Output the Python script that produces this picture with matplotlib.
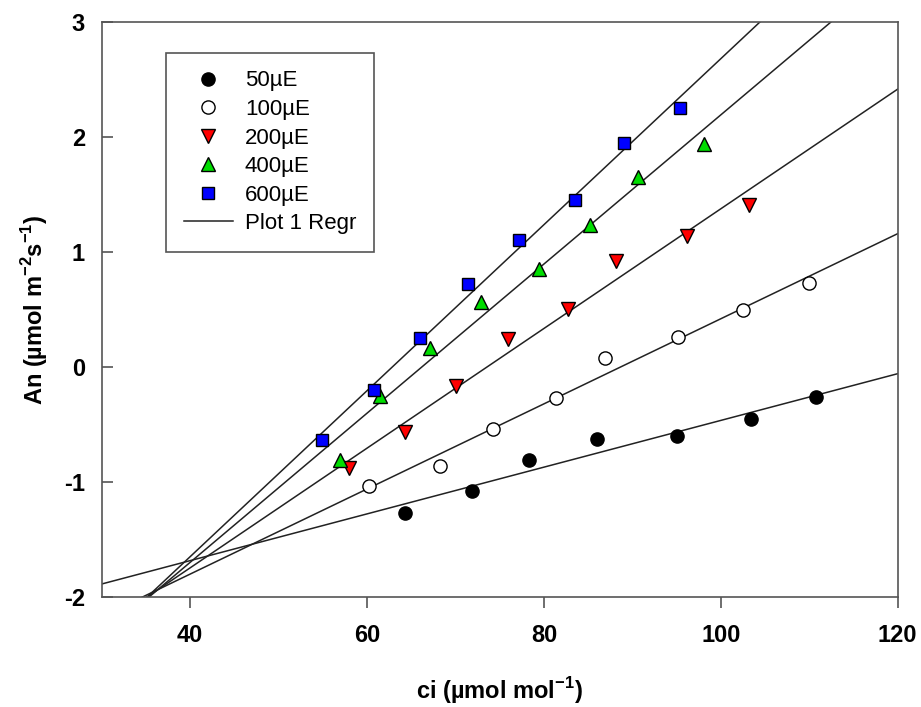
import matplotlib
matplotlib.use("Agg")
import matplotlib.pyplot as plt
import numpy as np

plt.rcParams['font.family'] = ['Liberation Sans', 'DejaVu Sans']
plt.rcParams['mathtext.fontset'] = 'custom'
plt.rcParams['mathtext.rm'] = 'Liberation Sans'
plt.rcParams['mathtext.bf'] = 'Liberation Sans:bold'
plt.rcParams['axes.unicode_minus'] = False

# ci values and An values for each light level
ci_50 = [64.3, 71.9, 78.3, 86.0, 95.0, 103.4, 110.8]
an_50 = [-1.27, -1.08, -0.81, -0.63, -0.60, -0.45, -0.26]

ci_100 = [60.2, 68.2, 74.2, 81.4, 86.9, 95.2, 102.5, 110.0]
an_100 = [-1.04, -0.86, -0.54, -0.27, 0.08, 0.26, 0.49, 0.73]

ci_200 = [58.0, 64.3, 70.1, 75.9, 82.7, 88.1, 96.2, 103.2]
an_200 = [-0.88, -0.57, -0.17, 0.24, 0.50, 0.92, 1.14, 1.41]

ci_400 = [57.0, 61.5, 67.1, 72.9, 79.5, 85.2, 90.6, 98.1]
an_400 = [-0.81, -0.25, 0.16, 0.56, 0.85, 1.23, 1.65, 1.94]

ci_600 = [54.9, 60.8, 66.0, 71.4, 77.2, 83.5, 89.1, 95.4]
an_600 = [-0.64, -0.20, 0.25, 0.72, 1.10, 1.45, 1.95, 2.25]

labels = ['50µE', '100µE', '200µE', '400µE', '600µE']

fig = plt.figure(figsize=(9.21, 7.07), dpi=100)
ax = fig.add_axes([0.1104, 0.156, 0.8643, 0.8129])

series = [
    (ci_50, an_50, 'o', 'black', 9.5),
    (ci_100, an_100, 'o', 'white', 9.5),
    (ci_200, an_200, 'v', 'red', 10.5),
    (ci_400, an_400, '^', '#00dd00', 10.5),
    (ci_600, an_600, 's', 'blue', 9),
]

xline = np.array([30, 120])
handles = []
for (x, y, m, c, ms), lab in zip(series, labels):
    h, = ax.plot(x, y, linestyle='none', marker=m, markersize=ms,
                 markerfacecolor=c, markeredgecolor='black',
                 markeredgewidth=1.0, label=lab, zorder=3)
    handles.append(h)
    k, b = np.polyfit(x, y, 1)
    ln, = ax.plot(xline, k * xline + b, color='#222222', lw=1.1, zorder=2)
ln.set_label('Plot 1 Regr')
handles.append(ln)

ax.set_xlim(30, 120)
ax.set_ylim(-2, 3)
ax.set_xticks([40, 60, 80, 100, 120])
ax.set_yticks([-2, -1, 0, 1, 2, 3])

for s in ax.spines.values():
    s.set_color('#555555')
    s.set_linewidth(1.2)

ax.tick_params(axis='x', direction='out', length=8, width=1.2, color='#555555',
               labelsize=17, pad=12, top=False)
ax.tick_params(axis='y', direction='in', length=8, width=1.2, color='#555555',
               labelsize=17, pad=12, right=False)
for t in ax.get_xticklabels() + ax.get_yticklabels():
    t.set_fontweight('bold')

ax.set_xlabel('ci (µmol mol$^{\\mathregular{-1}}$)', fontsize=17,
              fontweight='bold', labelpad=20)
ax.set_ylabel('An (µmol m$^{\\mathregular{-2}}$s$^{\\mathregular{-1}}$)',
              fontsize=17, fontweight='bold', labelpad=10)

leg = ax.legend(handles=handles, loc='upper left',
                bbox_to_anchor=(0.0808, 0.9466), borderaxespad=0,
                fontsize=16, frameon=True, fancybox=False,
                handlelength=2.2, handletextpad=0.55, labelspacing=0.34,
                borderpad=0.8, framealpha=1)
leg.get_frame().set_edgecolor('#555555')
leg.get_frame().set_linewidth(1.2)

fig.savefig('out.png', dpi=100)
